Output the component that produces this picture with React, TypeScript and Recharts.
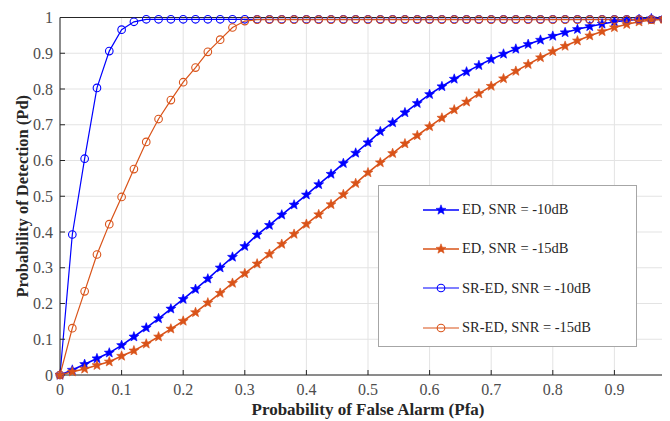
import { CartesianGrid, Line, LineChart, ReferenceLine, XAxis, YAxis } from "recharts";

// Pd vs Pfa, sampled every 0.02
const PFA = [
  0, 0.02, 0.04, 0.06, 0.08, 0.1, 0.12, 0.14, 0.16, 0.18,
  0.2, 0.22, 0.24, 0.26, 0.28, 0.3, 0.32, 0.34, 0.36, 0.38,
  0.4, 0.42, 0.44, 0.46, 0.48, 0.5, 0.52, 0.54, 0.56, 0.58,
  0.6, 0.62, 0.64, 0.66, 0.68, 0.7, 0.72, 0.74, 0.76, 0.78,
  0.8, 0.82, 0.84, 0.86, 0.88, 0.9, 0.92, 0.94, 0.96, 0.98,
];

const ED_10 = [
  0, 0.014, 0.03, 0.046, 0.062, 0.083, 0.107, 0.132, 0.158, 0.185,
  0.212, 0.24, 0.269, 0.3, 0.33, 0.36, 0.392, 0.419, 0.448, 0.476,
  0.504, 0.533, 0.562, 0.592, 0.621, 0.65, 0.681, 0.706, 0.734, 0.76,
  0.785, 0.807, 0.828, 0.848, 0.866, 0.883, 0.898, 0.912, 0.925, 0.937,
  0.948, 0.958, 0.967, 0.975, 0.982, 0.988, 0.992, 0.995, 0.997, 0.998,
];

const ED_15 = [
  0, 0.009, 0.017, 0.027, 0.037, 0.053, 0.068, 0.087, 0.107, 0.129,
  0.151, 0.175, 0.202, 0.229, 0.257, 0.284, 0.311, 0.338, 0.366, 0.394,
  0.422, 0.449, 0.477, 0.505, 0.536, 0.566, 0.594, 0.62, 0.647, 0.67,
  0.695, 0.719, 0.742, 0.764, 0.787, 0.808, 0.829, 0.85, 0.869, 0.888,
  0.905, 0.92, 0.935, 0.949, 0.961, 0.972, 0.981, 0.988, 0.993, 0.996,
];

const SRED_10 = [
  0, 0.393, 0.605, 0.803, 0.906, 0.966, 0.988, 0.995, 0.995, 0.995,
  0.995, 0.995, 0.995, 0.995, 0.995, 0.995, 0.995, 0.995, 0.995, 0.995,
  0.995, 0.995, 0.995, 0.995, 0.995, 0.995, 0.995, 0.995, 0.995, 0.995,
  0.995, 0.995, 0.995, 0.995, 0.995, 0.995, 0.995, 0.995, 0.995, 0.995,
  0.995, 0.995, 0.995, 0.995, 0.995, 0.995, 0.995, 0.995, 0.995, 0.995,
];

const SRED_15 = [
  0, 0.131, 0.234, 0.337, 0.422, 0.498, 0.576, 0.652, 0.716, 0.769,
  0.819, 0.86, 0.904, 0.938, 0.972, 0.99, 0.994, 0.994, 0.994, 0.994,
  0.994, 0.994, 0.994, 0.994, 0.994, 0.994, 0.994, 0.994, 0.994, 0.994,
  0.994, 0.994, 0.994, 0.994, 0.994, 0.994, 0.994, 0.994, 0.994, 0.994,
  0.994, 0.994, 0.994, 0.994, 0.994, 0.994, 0.994, 0.994, 0.994, 0.994,
];

const X_TICKS = [0, 0.1, 0.2, 0.3, 0.4, 0.5, 0.6, 0.7, 0.8, 0.9];
const Y_TICKS = [0, 0.1, 0.2, 0.3, 0.4, 0.5, 0.6, 0.7, 0.8, 0.9, 1];

const BLUE = "#0000ff";
const ORANGE = "#d95319";
const FONT = "'Liberation Serif', 'Times New Roman', serif";

const rows = PFA.map((pfa, i) => ({
  pfa,
  ed10: ED_10[i],
  ed15: ED_15[i],
  sred10: SRED_10[i],
  sred15: SRED_15[i],
}));

type Marker = "star" | "circle";

const SERIES: { key: string; name: string; color: string; marker: Marker; width: number }[] = [
  { key: "ed10", name: "ED, SNR = -10dB", color: BLUE, marker: "star", width: 1.6 },
  { key: "ed15", name: "ED, SNR = -15dB", color: ORANGE, marker: "star", width: 1.6 },
  { key: "sred10", name: "SR-ED, SNR = -10dB", color: BLUE, marker: "circle", width: 1.2 },
  { key: "sred15", name: "SR-ED, SNR = -15dB", color: ORANGE, marker: "circle", width: 1.2 },
];

function starPoints(cx: number, cy: number, R: number, r: number) {
  const pts: string[] = [];
  for (let k = 0; k < 10; k++) {
    const rad = k % 2 === 0 ? R : r;
    const a = -Math.PI / 2 + (k * Math.PI) / 5;
    pts.push(`${cx + rad * Math.cos(a)},${cy + rad * Math.sin(a)}`);
  }
  return pts.join(" ");
}

function MarkerShape({ cx, cy, color, marker }: { cx: number; cy: number; color: string; marker: Marker }) {
  if (marker === "star") {
    return <polygon points={starPoints(cx, cy, 5.2, 2.2)} fill={color} stroke={color} strokeWidth={0.6} strokeLinejoin="round" />;
  }
  return <circle cx={cx} cy={cy} r={3.8} fill="none" stroke={color} strokeWidth={1.1} />;
}

function LegendBox() {
  return (
    <div
      style={{
        position: "absolute",
        left: 370,
        top: 177,
        width: 259,
        height: 162,
        border: "1px solid #a6a6a6",
        background: "#fff",
        boxSizing: "border-box",
        fontFamily: FONT,
        fontSize: 14.5,
        color: "#262626",
        paddingTop: 4,
      }}
    >
      {SERIES.map((s) => (
        <div key={s.key} style={{ display: "flex", alignItems: "center", height: 39.3 }}>
          <svg width={83} height={14} style={{ flex: "none" }}>
            <line x1={44} y1={7} x2={80} y2={7} stroke={s.color} strokeWidth={s.width} />
            <MarkerShape cx={62} cy={7} color={s.color} marker={s.marker} />
          </svg>
          <span>{s.name}</span>
        </div>
      ))}
    </div>
  );
}

export default function App() {
  return (
    <div style={{ width: 662, height: 413, overflow: "hidden", position: "relative" }}>
      <LineChart
        width={680}
        height={413}
        data={rows}
        margin={{ top: 9.5, right: 12, bottom: 0, left: 0 }}
        style={{ fontFamily: FONT }}
      >
        <CartesianGrid stroke="#e3e3e3" strokeWidth={1} />
        <XAxis
          dataKey="pfa"
          type="number"
          domain={[0, 1]}
          ticks={X_TICKS}
          interval={0}
          height={46}
          stroke="#262626"
          tickSize={-5}
          tickMargin={14}
          tick={{ fill: "#4d4d4d", fontSize: 16, fontFamily: FONT }}
          label={{
            value: "Probability of False Alarm (Pfa)",
            position: "insideBottom",
            offset: 6,
            style: { fill: "#262626", fontWeight: "bold", fontSize: 17, fontFamily: FONT },
          }}
        />
        <YAxis
          type="number"
          domain={[0, 1]}
          ticks={Y_TICKS}
          interval={0}
          width={52}
          stroke="#262626"
          tickSize={-5}
          tickMargin={12}
          tick={{ fill: "#4d4d4d", fontSize: 16, fontFamily: FONT }}
          label={{
            value: "Probability of Detection (Pd)",
            angle: -90,
            position: "insideLeft",
            offset: 14,
            style: { textAnchor: "middle", fill: "#262626", fontWeight: "bold", fontSize: 16.5, fontFamily: FONT },
          }}
        />
        <ReferenceLine y={1} stroke="#262626" strokeWidth={1} />
        {SERIES.map((s) => (
          <Line
            key={s.key}
            dataKey={s.key}
            name={s.name}
            stroke={s.color}
            strokeWidth={s.width}
            isAnimationActive={false}
            dot={(p: any) => (
              <MarkerShape key={`${s.key}-${p.index}`} cx={p.cx} cy={p.cy} color={s.color} marker={s.marker} />
            )}
            activeDot={false}
          />
        ))}
      </LineChart>
      <LegendBox />
    </div>
  );
}
